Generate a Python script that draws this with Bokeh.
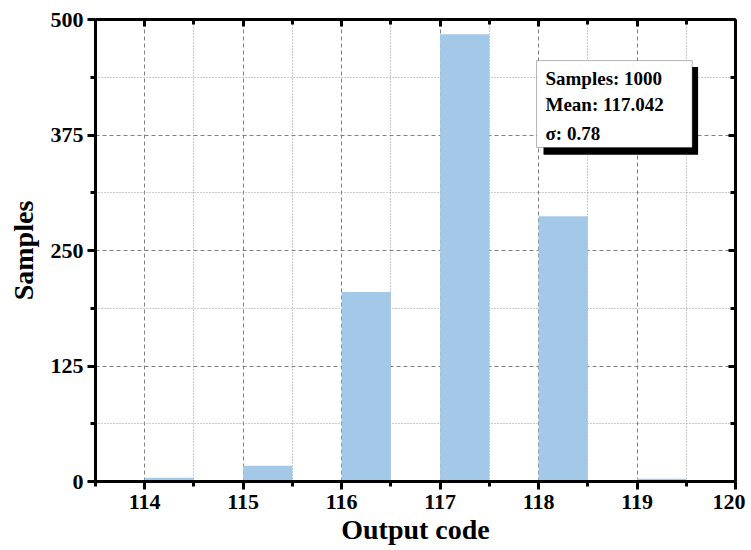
from bokeh.plotting import figure
from bokeh.models import LinearAxis, FixedTicker, Range1d, BoxAnnotation, Label
from bokeh.embed import file_html
from bokeh.resources import INLINE

codes = [114, 115, 116, 117, 118, 119]
counts = [4, 17, 205, 484, 287, 3]
x_ticks = [114, 115, 116, 117, 118, 119, 120]
x_minor = [113.5, 114.5, 115.5, 116.5, 117.5, 118.5, 119.5]
y_ticks = [0, 125, 250, 375, 500]
y_minor = [62.5, 187.5, 312.5, 437.5]
stats = ["Samples: 1000", "Mean: 117.042", "\u03c3: 0.78"]

FONT = "Liberation Serif"
BAR = "#a4c8e8"

p = figure(width=745, height=540, output_backend="svg", toolbar_location=None,
           x_range=Range1d(113.5, 120), y_range=Range1d(0, 500),
           frame_width=640, frame_height=462,
           min_border_left=95, min_border_right=10, min_border_top=19, min_border_bottom=59,
           x_axis_label="Output code", y_axis_label="Samples")
p.outline_line_color = None
p.background_fill_color = "white"

lefts = codes
rights = [c + 0.5 for c in codes]
p.quad(left=lefts, right=rights, bottom=0, top=counts, fill_color=BAR, line_color=None)

xt = FixedTicker(ticks=x_ticks, minor_ticks=x_minor)
yt = FixedTicker(ticks=y_ticks, minor_ticks=y_minor)

def style_axis(ax, labels=True, inward=False, ticks=None):
    ax.axis_line_width = 3
    ax.axis_line_color = "black"
    ax.major_tick_line_width = 3
    ax.minor_tick_line_width = 3
    ax.major_tick_line_color = "black"
    ax.minor_tick_line_color = "black"
    if inward:
        ax.major_tick_in = 7
        ax.major_tick_out = 0
        ax.minor_tick_in = 5
        ax.minor_tick_out = 0
    else:
        ax.major_tick_in = 0
        ax.major_tick_out = 8
        ax.minor_tick_in = 0
        ax.minor_tick_out = 5
    ax.major_label_text_font = FONT
    ax.major_label_text_font_style = "bold"
    ax.major_label_text_font_size = "22px"
    ax.major_label_text_color = "black"
    ax.axis_label_text_font = FONT
    ax.axis_label_text_font_style = "bold"
    ax.axis_label_text_font_size = "28px"
    ax.axis_label_text_color = "black"
    if not labels:
        ax.major_label_overrides = {t: "" for t in ticks}
        ax.major_label_standoff = 0

p.xaxis.ticker = xt
p.yaxis.ticker = yt
style_axis(p.xaxis[0])
style_axis(p.yaxis[0])
p.xaxis[0].major_label_standoff = 5
p.yaxis[0].major_label_standoff = 4
p.xaxis[0].axis_label_standoff = 2
p.yaxis[0].axis_label_standoff = 9

top_ax = LinearAxis(ticker=FixedTicker(ticks=x_ticks, minor_ticks=x_minor))
style_axis(top_ax, labels=False, inward=True, ticks=x_ticks)
p.add_layout(top_ax, "above")
right_ax = LinearAxis(ticker=FixedTicker(ticks=y_ticks, minor_ticks=y_minor))
style_axis(right_ax, labels=False, inward=True, ticks=y_ticks)
p.add_layout(right_ax, "right")

for g in (p.xgrid[0], p.ygrid[0]):
    g.grid_line_color = "#808080"
    g.grid_line_width = 1
    g.grid_line_dash = "4 3"
    g.minor_grid_line_color = "#999999"
    g.minor_grid_line_width = 1
    g.minor_grid_line_dash = "1 2"
p.xgrid[0].ticker = xt
p.ygrid[0].ticker = yt

# stats box with shadow
p.add_layout(BoxAnnotation(left=118.05, right=119.62, top=448.5, bottom=353.5,
                           fill_color="black", fill_alpha=1, line_color=None, level="overlay"))
p.add_layout(BoxAnnotation(left=117.98, right=119.56, top=455.5, bottom=361.5,
                           fill_color="white", fill_alpha=1, line_color="black", line_width=1,
                           level="overlay"))
ys = [436, 408, 377]
for s, yy in zip(stats, ys):
    p.add_layout(Label(x=118.07, y=yy, text=s, text_font=FONT, text_font_style="bold",
                       text_font_size="19px", text_color="black", text_baseline="middle",
                       level="overlay"))

open("out.html", "w").write(file_html(p, INLINE))
